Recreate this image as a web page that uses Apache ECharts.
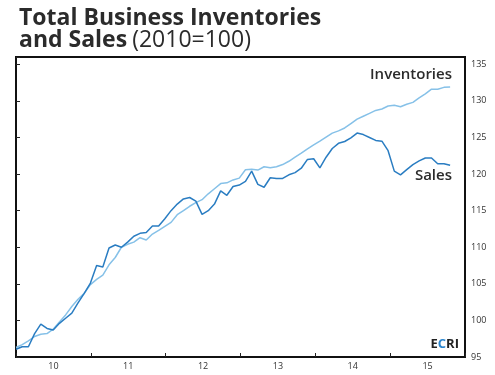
<!DOCTYPE html>
<html>
<head>
<meta charset="utf-8">
<script src="https://cdn.jsdelivr.net/npm/echarts@6/dist/echarts.min.js"></script>
<style>
  html, body { margin: 0; padding: 0; background: #fff; }
  #chart { width: 495px; height: 375px; }
</style>
</head>
<body>
<div id="chart"></div>
<script>
// monthly, Jan 2010 .. Nov 2015 (2010 = 100)
const months = Array.from({ length: 71 }, (_, i) => i);
const yearLabels = ["10", "11", "12", "13", "14", "15"];

const sales = [
  96.05, 96.4, 96.4, 98.2, 99.5, 98.9, 98.7, 99.6, 100.3, 101.0,
  102.4, 103.7, 105.1, 107.5, 107.3, 109.9, 110.3, 110.0, 110.7, 111.5,
  111.9, 112.0, 112.9, 112.9, 113.9, 115.0, 115.9, 116.6, 116.8, 116.3,
  114.5, 115.0, 115.9, 117.7, 117.1, 118.3, 118.5, 119.0, 120.4, 118.6,
  118.2, 119.5, 119.4, 119.4, 119.9, 120.2, 120.8, 122.0, 122.1, 120.85,
  122.3, 123.5, 124.2, 124.45, 124.95, 125.6, 125.4, 125.0, 124.6, 124.5,
  123.2, 120.4, 119.9, 120.6, 121.3, 121.8, 122.2, 122.2, 121.4, 121.4, 121.2
];

const inventories = [
  96.3, 96.7, 97.2, 97.8, 98.1, 98.2, 98.8, 99.8, 100.75, 101.9,
  102.9, 103.7, 104.9, 105.6, 106.2, 107.6, 108.6, 110.0, 110.4, 110.7,
  111.3, 111.0, 111.8, 112.3, 112.85, 113.4, 114.45, 115.0, 115.6, 116.1,
  116.5, 117.3, 118.0, 118.7, 118.8, 119.2, 119.45, 120.6, 120.65, 120.55,
  121.0, 120.85, 121.0, 121.3, 121.75, 122.3, 122.85, 123.45, 124.0, 124.5,
  125.05, 125.6, 125.9, 126.3, 126.9, 127.5, 127.9, 128.3, 128.7, 128.9,
  129.3, 129.4, 129.2, 129.55, 129.8, 130.4, 130.95, 131.6, 131.6, 131.85, 131.9
];

const yTicks = [95, 100, 105, 110, 115, 120, 125, 130, 135];

const FONT = "'Open Sans', sans-serif";
const TEXT = "#2b2b2b";

const chart = echarts.init(document.getElementById("chart"));

const option = {
  animation: false,
  title: {
    left: 14,
    top: 2,
    text: "{b|Total Business Inventories}\n{b|and Sales} {n|(2010=100)}",
    textStyle: {
      rich: {
        b: { fontFamily: FONT, fontWeight: "bold", fontSize: 23, color: TEXT, lineHeight: 22 },
        n: { fontFamily: FONT, fontWeight: "normal", fontSize: 23, color: TEXT, lineHeight: 22 }
      }
    }
  },
  grid: {
    left: 16,
    right: 30,
    top: 57,
    bottom: 18,
    show: true,
    borderColor: "#111",
    borderWidth: 2
  },
  xAxis: [
    {
      // data axis
      type: "value",
      min: 0,
      max: 72.4,
      show: false
    },
    {
      // year boundary ticks
      type: "value",
      min: 0,
      max: 72,
      interval: 12,
      position: "bottom",
      axisLine: { show: true, lineStyle: { color: "#111", width: 2 } },
      axisTick: { show: true, inside: true, length: 4, lineStyle: { color: "#222" } },
      axisLabel: { show: false },
      splitLine: { show: false }
    },
    {
      // year labels centred in each year
      type: "value",
      min: 0,
      max: 72,
      interval: 6,
      position: "bottom",
      axisLine: { show: false },
      axisTick: { show: false },
      splitLine: { show: false },
      axisLabel: {
        show: true,
        margin: 5,
        fontFamily: FONT,
        fontSize: 9,
        color: "#333",
        formatter: v => (v % 12 === 6 ? yearLabels[(v - 6) / 12] : "")
      }
    }
  ],
  yAxis: {
    type: "value",
    position: "right",
    min: 95,
    max: 136,
    interval: 5,
    axisLine: { show: false },
    axisTick: { show: true, length: 4, lineStyle: { color: "#222" } },
    splitLine: { show: false },
    axisLabel: {
      margin: 6,
      fontFamily: FONT,
      fontSize: 9,
      color: "#333",
      formatter: v => (yTicks.includes(v) ? String(v) : "")
    }
  },
  series: [
    {
      name: "Inventories",
      type: "line",
      xAxisIndex: 0,
      data: months.map((m, i) => [m, inventories[i]]),
      symbol: "none",
      lineStyle: { color: "#86c1e8", width: 1.5 },
      z: 2
    },
    {
      name: "Sales",
      type: "line",
      xAxisIndex: 0,
      data: months.map((m, i) => [m, sales[i]]),
      symbol: "none",
      lineStyle: { color: "#2a7dc2", width: 1.5 },
      z: 3
    }
  ],
  graphic: [
    {
      type: "text",
      right: 43,
      top: 67,
      style: { text: "Inventories", fontFamily: FONT, fontSize: 15, fontWeight: 600, fill: TEXT }
    },
    {
      type: "text",
      right: 43,
      top: 168,
      style: { text: "Sales", fontFamily: FONT, fontSize: 15, fontWeight: 600, fill: TEXT }
    },
    {
      type: "text",
      right: 36,
      top: 338,
      style: {
        text: "{d|E}{c|C}{d|RI}",
        rich: {
          d: { fontFamily: FONT, fontSize: 13, fontWeight: "bold", fill: "#222" },
          c: { fontFamily: FONT, fontSize: 13, fontWeight: "bold", fill: "#2a86d0" }
        }
      }
    }
  ]
};

chart.setOption(option);
</script>
</body>
</html>
